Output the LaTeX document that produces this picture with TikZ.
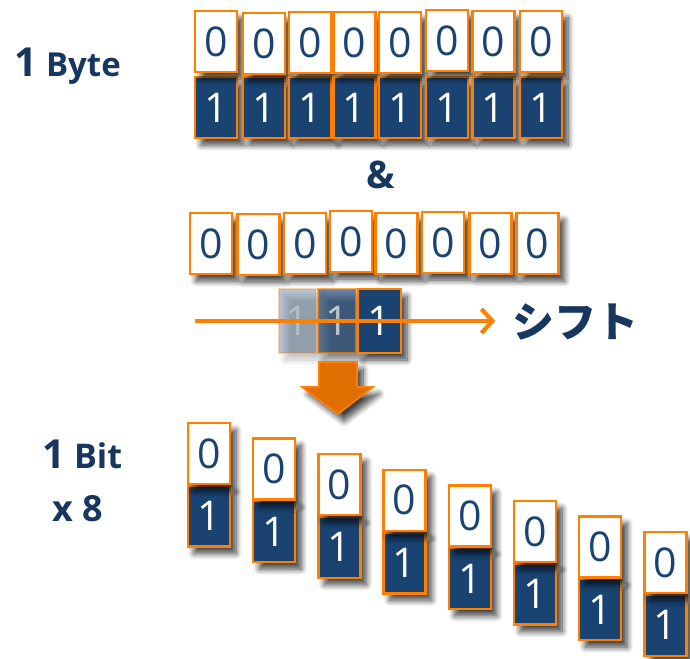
\documentclass[tikz,border=0pt]{standalone}
\usepackage{fontspec}
\setmainfont{Open Sans}
\newfontfamily\jpfont{Noto Sans CJK JP}
\usetikzlibrary{shadows.blur,arrows.meta}

\definecolor{navy}{HTML}{1A4372}
\definecolor{ink}{HTML}{17375E}
\definecolor{edge}{HTML}{FF8000}
\definecolor{arrowfill}{HTML}{E06E00}

\tikzset{
  softshadow/.style={blur shadow={shadow xshift=6pt, shadow yshift=-7pt,
      shadow blur radius=6pt, shadow blur steps=10, shadow opacity=75}},
  bitbox/.style={draw=edge, line width=2.4pt, minimum width=42pt,
      minimum height=61pt, inner sep=0pt, softshadow,
      font=\fontsize{41}{41}\selectfont},
  zerobox/.style={bitbox, fill=white, text=navy},
  onebox/.style={bitbox, fill=navy, text=white},
  label/.style={text=ink, font=\bfseries, inner sep=0pt, anchor=base west},
}

\begin{document}
\begin{tikzpicture}[x=1pt, y=-1pt]
  \useasboundingbox (0,0) rectangle (690,658);

  % 1 Byte: eight 0/1 cells
  \foreach \i/\cx/\ty in {1/216/10, 2/264/12, 3/310/11, 4/354.5/11,
                          5/400/11, 6/447/9, 7/493.5/10, 8/541/10} {
    \node[onebox]  (o\i) at (\cx,107.5) {1};
    \node[zerobox] (z\i) at (\cx,\ty+31.5) {0};
  }
  \node[label] (bytelabel) at (14,77)
    {{\fontsize{40}{40}\selectfont 1}\hspace{9pt}{\fontsize{33}{33}\selectfont Byte}};

  % AND operator
  \node[text=ink, font=\bfseries\fontsize{38}{38}\selectfont, inner sep=0pt]
    (andop) at (380.5,175) {\&};

  % mask byte
  \foreach \i/\cx/\ty in {1/211/212, 2/258.5/213, 3/305/212, 4/351/210,
                          5/396.5/212, 6/443/211, 7/490.5/212, 8/537.5/212} {
    \node[zerobox] (m\i) at (\cx,\ty+31.5) {0};
  }

  % shifting bit
  \node[onebox, opacity=0.3, minimum width=37pt, minimum height=64pt]
    (s1) at (297.5,321) {1};
  \node[onebox, opacity=0.65, minimum width=38pt, minimum height=64pt]
    (s2) at (337,321) {1};
  \node[onebox, minimum width=43pt, minimum height=64pt]
    (s3) at (379.5,321) {1};

  \node[text=ink, font=\jpfont\bfseries\fontsize{42}{42}\selectfont,
        inner sep=0pt] (shiftlabel) at (575.5,322) {シフト};
  \coordinate (shiftstart) at (195,321);
  \draw[edge, line width=4.2pt,
        -{Straight Barb[length=11pt, width=24pt, line width=4.2pt]}]
    (shiftstart) -- ([xshift=-17pt]shiftlabel.west |- shiftstart);

  % down arrow
  \path[fill=arrowfill, draw=edge, line width=1.6pt, softshadow]
    (319,362) -- (357,362) -- (357,387) -- (373,387) -- (338,414)
    -- (302,387) -- (319,387) -- cycle;

  % 1 Bit x 8
  \foreach \i in {1,...,8} {
    \pgfmathsetmacro{\cx}{209+65.2*(\i-1)}
    \pgfmathsetmacro{\ty}{422+15.6*(\i-1)}
    \node[onebox]  (bo\i) at (\cx,\ty+94) {1};
    \node[zerobox] (bz\i) at (\cx,\ty+31.5) {0};
  }
  \node[label] (bitlabel) at (42,468)
    {{\fontsize{40}{40}\selectfont 1}\hspace{9pt}{\fontsize{34}{34}\selectfont Bit}};
  \node[label, font=\bfseries\fontsize{36}{36}\selectfont] (timeslabel)
    at (52,521) {x 8};
\end{tikzpicture}
\end{document}
